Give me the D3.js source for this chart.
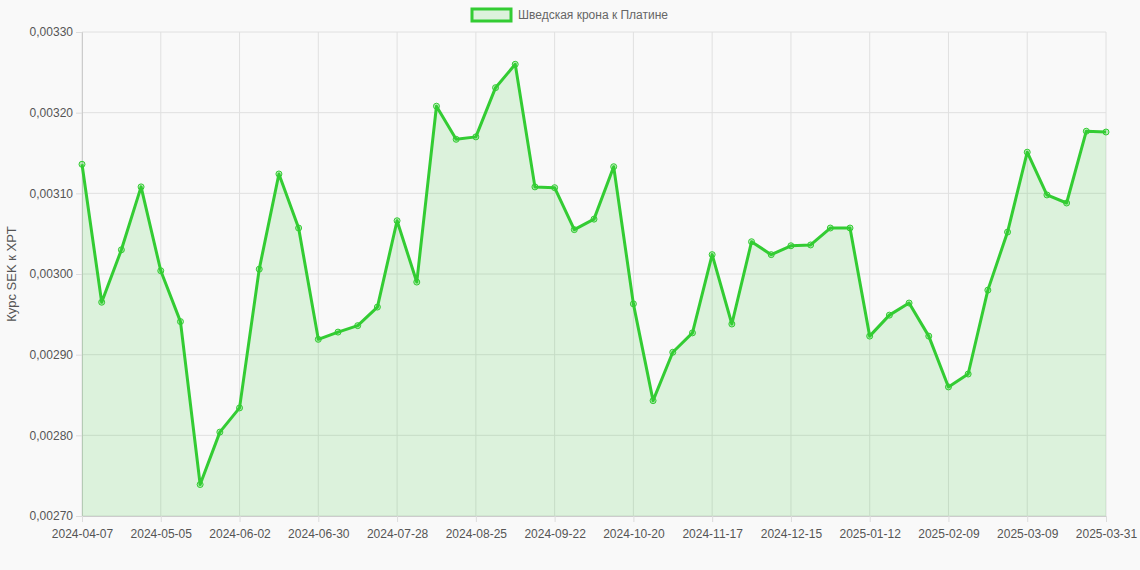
<!DOCTYPE html>
<html><head><meta charset="utf-8">
<script src="https://cdn.jsdelivr.net/npm/d3@7"></script>
<style>body{margin:0;background:#f9f9f9;}svg{display:block;font-family:"Liberation Sans",Arial,sans-serif;}</style>
</head><body><svg id="c" width="1140" height="570"></svg>
<script>
const dates=["2024-04-07","2024-04-14","2024-04-21","2024-04-28","2024-05-05","2024-05-12","2024-05-19","2024-05-26","2024-06-02","2024-06-09","2024-06-16","2024-06-23","2024-06-30","2024-07-07","2024-07-14","2024-07-21","2024-07-28","2024-08-04","2024-08-11","2024-08-18","2024-08-25","2024-09-01","2024-09-08","2024-09-15","2024-09-22","2024-09-29","2024-10-06","2024-10-13","2024-10-20","2024-10-27","2024-11-03","2024-11-10","2024-11-17","2024-11-24","2024-12-01","2024-12-08","2024-12-15","2024-12-22","2024-12-29","2025-01-05","2025-01-12","2025-01-19","2025-01-26","2025-02-02","2025-02-09","2025-02-16","2025-02-23","2025-03-02","2025-03-09","2025-03-16","2025-03-23","2025-03-30","2025-03-31"];
const values=[0.003136,0.002965,0.003030,0.003108,0.003004,0.002941,0.002739,0.002804,0.002834,0.003006,0.003124,0.003057,0.002919,0.002928,0.002936,0.002959,0.003066,0.002990,0.003208,0.003167,0.003170,0.003231,0.003260,0.003108,0.003107,0.003055,0.003068,0.003133,0.002963,0.002843,0.002903,0.002927,0.003024,0.002938,0.003040,0.003024,0.003035,0.003036,0.003057,0.003057,0.002923,0.002949,0.002964,0.002923,0.002860,0.002876,0.002980,0.003052,0.003151,0.003098,0.003088,0.003177,0.003176];
const yTicks=[0.0027,0.0028,0.0029,0.0030,0.0031,0.0032,0.0033];
const seriesName="Шведская крона к Платине";
const yTitle="Курс SEK к XPT";

const svg=d3.select("#c");
const L=82,R=1106,T=32,B=516;
const x=d3.scalePoint().domain(dates).range([L,R]);
const y=d3.scaleLinear().domain([0.0027,0.0033]).range([B,T]);
const shown=dates.filter((d,i)=>i%4===0||i===dates.length-1);
const col="#33cc33";

// grid
svg.append("g").selectAll("line").data(yTicks).join("line")
 .attr("x1",L).attr("x2",R).attr("y1",d=>y(d)).attr("y2",d=>y(d)).attr("stroke","#e0e0e0");
svg.append("g").selectAll("line").data(shown).join("line")
 .attr("x1",d=>x(d)).attr("x2",d=>x(d)).attr("y1",T).attr("y2",B).attr("stroke","#e0e0e0");

// axes
const fmt=d=>d.toFixed(5).replace(".",",");
const ya=svg.append("g").attr("transform",`translate(${L},0)`).call(d3.axisLeft(y).tickValues(yTicks).tickFormat(fmt).tickSize(6));
const xa=svg.append("g").attr("transform",`translate(0,${B})`).call(d3.axisBottom(x).tickValues(shown).tickSize(6));
[ya,xa].forEach(a=>{a.select(".domain").attr("stroke","#ccc");a.selectAll(".tick line").attr("stroke","#ddd");a.selectAll("text").attr("fill","#555").style("font-size","12px");});
xa.selectAll("text").attr("dy","1.1em");

// area and line
const data=dates.map((d,i)=>({d,v:values[i]}));
svg.append("path").datum(data).attr("fill","rgba(51,204,51,0.15)")
 .attr("d",d3.area().x(p=>x(p.d)).y0(B).y1(p=>y(p.v)));
svg.append("path").datum(data).attr("fill","none").attr("stroke",col).attr("stroke-width",3).attr("stroke-linejoin","round")
 .attr("d",d3.line().x(p=>x(p.d)).y(p=>y(p.v)));
svg.append("g").selectAll("circle").data(data).join("circle")
 .attr("cx",p=>x(p.d)).attr("cy",p=>y(p.v)).attr("r",3)
 .attr("fill","rgba(51,204,51,0.3)").attr("stroke",col).attr("stroke-width",1);

// y title
svg.append("text").attr("transform","translate(16,274) rotate(-90)").attr("text-anchor","middle")
 .attr("fill","#555").style("font-size","13px").text(yTitle);

// legend
svg.append("rect").attr("x",472).attr("y",9).attr("width",39).attr("height",12)
 .attr("fill","rgba(51,204,51,0.15)").attr("stroke",col).attr("stroke-width",3);
svg.append("text").attr("x",518).attr("y",19).attr("fill","#666").style("font-size","12px").text(seriesName);
</script></body></html>
